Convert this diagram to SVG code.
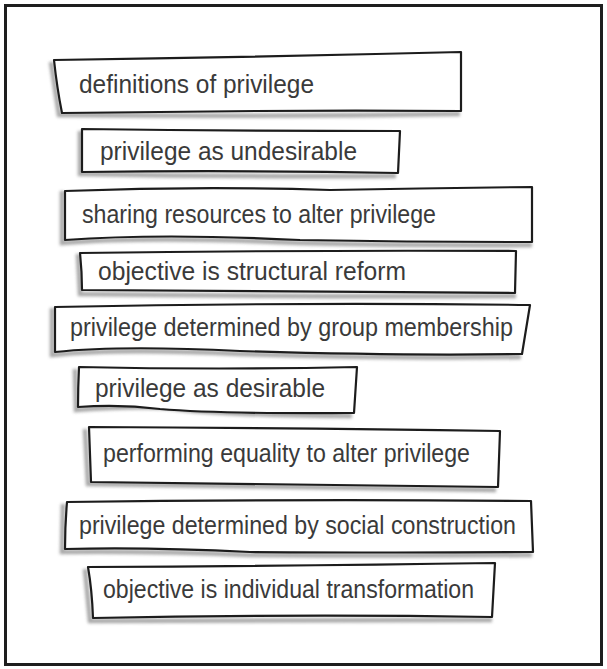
<svg xmlns="http://www.w3.org/2000/svg" width="607" height="669" viewBox="0 0 607 669">
  <defs>
    <filter id="smudge" x="-10%" y="-50%" width="120%" height="200%">
      <feGaussianBlur stdDeviation="1.6"/>
    </filter>
    <style>
      .frame { fill: #ffffff; stroke: #1e1e1e; stroke-width: 3; }
      .box { fill: #ffffff; stroke: #1c1c1c; stroke-width: 2.2; stroke-linejoin: round; }
      .shade { fill: none; stroke: #8c8c8c; stroke-width: 4.5; opacity: 0.75; filter: url(#smudge); }
      .label { font-family: "Liberation Sans", Arial, sans-serif; font-size: 25px; fill: #3a3a3a; }
    </style>
  </defs>

  <rect class="frame" x="5.5" y="5.5" width="596" height="659"/>

  <g id="definitions-of-privilege">
    <path class="shade" d="M51 62 L59 115 Q260 117 460 114"/>
    <path class="box" d="M54 60 Q260 57 461 52 L461 111 Q300 110 160 112 L62 113 Q57 88 54 60 Z"/>
    <text class="label" x="79" y="93" textLength="235" lengthAdjust="spacingAndGlyphs">definitions of privilege</text>
  </g>

  <g id="privilege-as-undesirable">
    <path class="shade" d="M80 131 L80 174 Q240 177 396 176"/>
    <path class="box" d="M82 129 Q240 131 400 131 L398 173 Q240 170 82 172 Z"/>
    <text class="label" x="100" y="160" textLength="257" lengthAdjust="spacingAndGlyphs">privilege as undesirable</text>
  </g>

  <g id="sharing-resources">
    <path class="shade" d="M62 191 L62 243 Q150 236 300 243 Q420 246 532 245"/>
    <path class="box" d="M65 191 Q200 186 330 190 Q430 188 532 187 L532 242 Q420 242 300 240 Q160 233 65 240 Z"/>
    <text class="label" x="82" y="223" textLength="354" lengthAdjust="spacingAndGlyphs">sharing resources to alter privilege</text>
  </g>

  <g id="structural-reform">
    <path class="shade" d="M78 254 L80 294 Q300 297 516 296"/>
    <path class="box" d="M80 253 Q300 250 516 251 L515 293 Q300 292 82 290 Q82 272 80 253 Z"/>
    <text class="label" x="98" y="280" textLength="308" lengthAdjust="spacingAndGlyphs">objective is structural reform</text>
  </g>

  <g id="group-membership">
    <path class="shade" d="M52 308 L52 355 Q120 348 240 354 Q400 359 521 357"/>
    <path class="box" d="M55 307 Q300 302 530 305 L522 354 Q400 356 240 351 Q120 345 55 352 Z"/>
    <text class="label" x="70" y="336" textLength="443" lengthAdjust="spacingAndGlyphs">privilege determined by group membership</text>
  </g>

  <g id="privilege-as-desirable">
    <path class="shade" d="M75 369 L76 410 Q130 406 170 408 Q210 415 352 416"/>
    <path class="box" d="M79 367 Q220 370 357 367 L354 413 Q220 414 160 409 Q120 404 78 407 Q78 388 79 367 Z"/>
    <text class="label" x="95" y="397" textLength="230" lengthAdjust="spacingAndGlyphs">privilege as desirable</text>
  </g>

  <g id="performing-equality">
    <path class="shade" d="M85 429 L88 484 Q300 488 496 490"/>
    <path class="box" d="M89 427 Q300 428 500 431 L498 487 Q300 485 91 482 Q90 455 89 427 Z"/>
    <text class="label" x="103" y="462" textLength="367" lengthAdjust="spacingAndGlyphs">performing equality to alter privilege</text>
  </g>

  <g id="social-construction">
    <path class="shade" d="M63 504 L62 552 Q150 551 250 555 Q400 556 532 555"/>
    <path class="box" d="M67 502 Q300 499 531 501 L533 552 Q400 553 250 552 Q150 547 65 549 Q65 525 67 502 Z"/>
    <text class="label" x="79" y="534" textLength="437" lengthAdjust="spacingAndGlyphs">privilege determined by social construction</text>
  </g>

  <g id="individual-transformation">
    <path class="shade" d="M85 569 L90 621 Q300 620 492 620"/>
    <path class="box" d="M88 567 Q300 566 495 563 L492 617 Q300 614 93 618 Q92 590 88 567 Z"/>
    <text class="label" x="103" y="598" textLength="371" lengthAdjust="spacingAndGlyphs">objective is individual transformation</text>
  </g>
</svg>
